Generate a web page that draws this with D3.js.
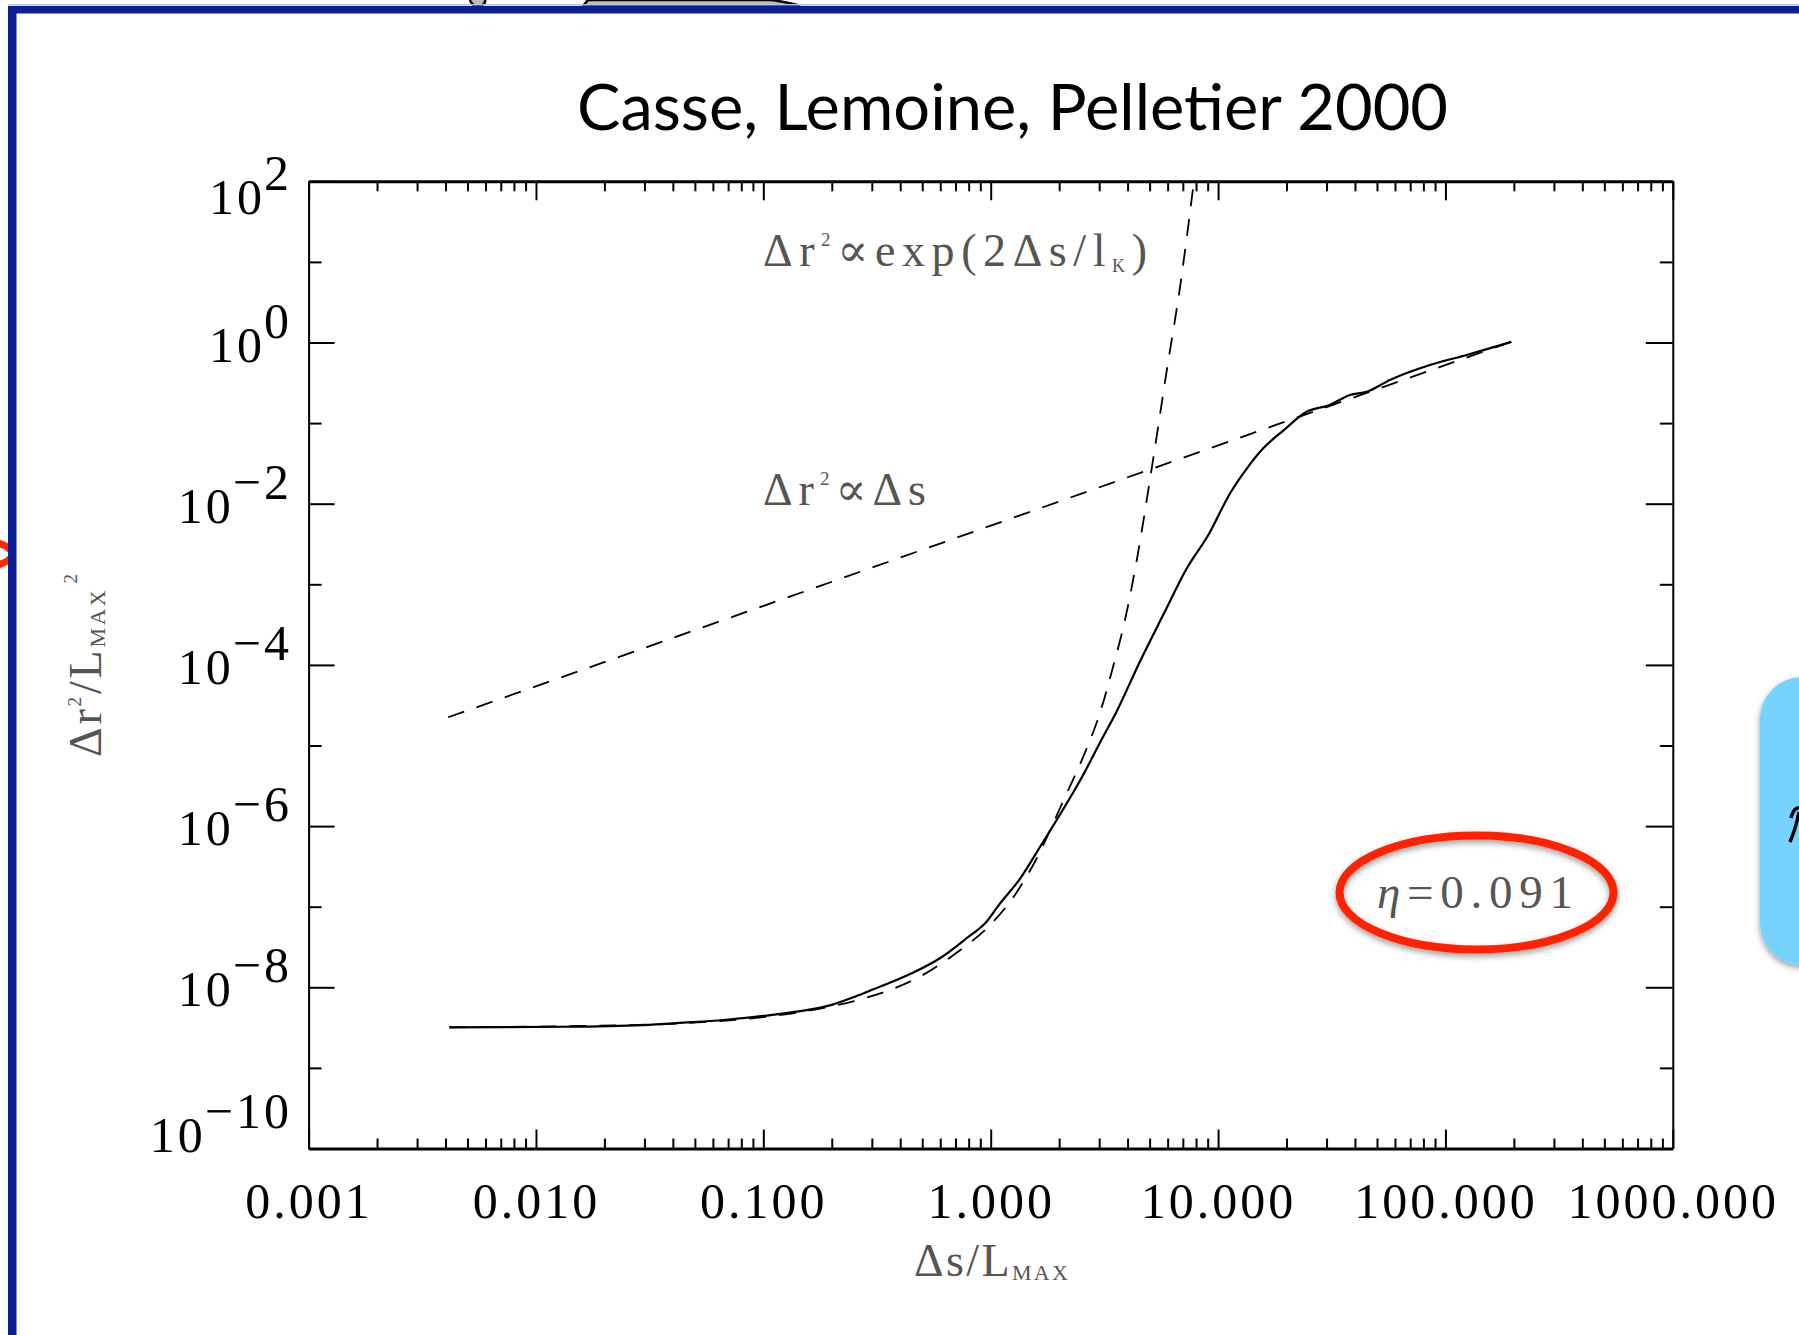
<!DOCTYPE html>
<html>
<head>
<meta charset="utf-8">
<script src="https://cdn.jsdelivr.net/npm/d3@7"></script>
<style>
  body { margin: 0; background: #fff; }
  svg { display: block; }
</style>
</head>
<body>
<svg id="chart" width="1799" height="1335"></svg>
<script>
// axis ticks
var xTicks = [0.001, 0.01, 0.1, 1, 10, 100, 1000];
var xTickLabels = ["0.001", "0.010", "0.100", "1.000", "10.000", "100.000", "1000.000"];
var yExponents = [2, 0, -2, -4, -6, -8, -10];
var yMinorExponents = [1, -1, -3, -5, -7, -9];

// simulated run (solid)
var runS = [0.00416, 0.0132, 0.0296, 0.0445, 0.0667, 0.100, 0.140, 0.196, 0.251, 0.305,
            0.442, 0.598, 0.783, 0.959, 1.10, 1.35, 1.65, 1.95, 2.55, 3.03,
            3.58, 4.54, 5.74, 7.28, 9.06, 11.3, 13.4, 15.8, 19.4, 24.5,
            31.0, 38.0, 45.1, 57.0, 85.5, 124, 195];
var runR2 = [3.19e-9, 3.24e-9, 3.40e-9, 3.64e-9, 3.93e-9, 4.41e-9, 4.98e-9, 5.96e-9, 7.59e-9, 9.44e-9,
             1.46e-8, 2.29e-8, 4.06e-8, 6.52e-8, 1.10e-7, 2.25e-7, 5.55e-7, 1.19e-6, 4.31e-6, 1.10e-5,
             2.65e-5, 1.11e-4, 4.18e-4, 1.57e-3, 4.09e-3, 0.0135, 0.0275, 0.0486, 0.0813, 0.138,
             0.168, 0.223, 0.245, 0.343, 0.526, 0.700, 1.02];

// exponential regime (dashed)
var expS = [0.00416, 0.0251, 0.0631, 0.100, 0.158, 0.251, 0.355, 0.501, 0.708, 1.00,
            1.26, 1.58, 2.09, 2.57, 3.02, 3.47, 3.89, 4.39, 5.11, 5.94, 6.81, 7.83];
var expR2 = [3.19e-9, 3.39e-9, 3.80e-9, 4.27e-9, 5.13e-9, 6.76e-9, 9.12e-9, 1.41e-8, 2.69e-8, 6.03e-8,
             1.32e-7, 3.80e-7, 2.09e-6, 7.59e-6, 2.51e-5, 1.0e-4, 3.55e-4, 2.0e-3, 0.0277, 0.438, 4.97, 100];

// diffusive regime (dashed)
var diffS = [0.00411, 195];
var diffR2 = [2.24e-5, 1.02];

var svg = d3.select("#chart");
var defs = svg.append("defs");
var serif = "'Liberation Serif', 'DejaVu Serif', serif";

defs.append("filter").attr("id", "shadow")
    .attr("x", "-20%").attr("y", "-20%").attr("width", "140%").attr("height", "140%")
  .append("feDropShadow")
    .attr("dx", 0).attr("dy", 3).attr("stdDeviation", 3)
    .attr("flood-color", "#000").attr("flood-opacity", 0.4);

defs.append("clipPath").attr("id", "plotClip")
  .append("rect").attr("x", 308.6).attr("y", 181.3).attr("width", 1364.2).attr("height", 967.2);

//Slide furniture around the plot
svg.append("ellipse")
    .attr("cx", -32).attr("cy", 554).attr("rx", 44).attr("ry", 15)
    .attr("fill", "none").attr("stroke", "#ff2a00").attr("stroke-width", 7);

svg.append("path")
    .attr("d", "M470,0 Q472,7 480,6 Q486,4 485,0 M583,6 L588,0 L772,0 Q792,3 800,6 Z")
    .attr("fill", "#bbb").attr("stroke", "#000").attr("stroke-width", 2.5);

svg.append("rect").attr("x", 8).attr("y", 4).attr("width", 1791).attr("height", 1.5).attr("fill", "#b9c3e6");
svg.append("rect").attr("x", 8).attr("y", 6).attr("width", 1791).attr("height", 7.5).attr("fill", "#0b1f95");
svg.append("rect").attr("x", 8).attr("y", 6).attr("width", 8.5).attr("height", 1329).attr("fill", "#0b1f95");

svg.append("rect")
    .attr("x", 1760).attr("y", 677).attr("width", 120).attr("height", 288).attr("rx", 42)
    .attr("fill", "#76d3fe").attr("filter", "url(#shadow)");
// fragment of a glyph cut by the slide edge
svg.append("path")
    .attr("d", "M1791,818 Q1794,806 1801,808 M1799,812 Q1796,828 1790,842")
    .attr("fill", "none").attr("stroke", "#000").attr("stroke-width", 3.5);

//Title
svg.append("text")
    .attr("x", 1012.5).attr("y", 130)
    .attr("text-anchor", "middle")
    .attr("font-family", "'Comic Sans MS', Lato, sans-serif").attr("font-size", 64)
    .attr("textLength", 871).attr("lengthAdjust", "spacingAndGlyphs")
    .text("Casse, Lemoine, Pelletier 2000");

//Scales
var x = d3.scaleLog().domain([0.001, 1000]).range([308.6, 1672.8]);
var y = d3.scaleLog().domain([1e-10, 1e2]).range([1148.5, 181.3]);

var xMinor = [];
xTicks.slice(0, -1).forEach(function(d) {
    for (var k = 2; k < 10; k++) xMinor.push(d * k);
});
var yMajor = yExponents.map(function(e) { return Math.pow(10, e); });
var yMinor = yMinorExponents.map(function(e) { return Math.pow(10, e); });

function addAxis(axis, tx, ty, domainWidth) {
    var g = svg.append("g").attr("transform", "translate(" + tx + "," + ty + ")").call(axis);
    if (domainWidth) g.select(".domain").attr("stroke-width", domainWidth);
    else g.select(".domain").remove();
    g.selectAll(".tick line").attr("stroke-width", 2);
    return g;
}

// bottom
var xAxis = addAxis(d3.axisBottom(x).tickValues(xTicks)
        .tickFormat(function(d, i) { return xTickLabels[i]; })
        .tickSize(-19).tickSizeOuter(0).tickPadding(34), 0, 1148.5, 3);
xAxis.attr("font-family", serif).attr("font-size", 50);
xAxis.selectAll(".tick text").attr("fill", "#000").attr("letter-spacing", 3);
addAxis(d3.axisBottom(x).tickValues(xMinor).tickFormat("").tickSize(-10), 0, 1148.5);
// top
addAxis(d3.axisTop(x).tickValues(xTicks).tickFormat("").tickSize(-19).tickSizeOuter(0), 0, 181.3, 3);
addAxis(d3.axisTop(x).tickValues(xMinor).tickFormat("").tickSize(-10), 0, 181.3);
// left
addAxis(d3.axisLeft(y).tickValues(yMajor).tickFormat("").tickSize(-26).tickSizeOuter(0), 308.6, 0, 2);
addAxis(d3.axisLeft(y).tickValues(yMinor).tickFormat("").tickSize(-13), 308.6, 0);
// right
addAxis(d3.axisRight(y).tickValues(yMajor).tickFormat("").tickSize(-27).tickSizeOuter(0), 1672.8, 0, 2);
addAxis(d3.axisRight(y).tickValues(yMinor).tickFormat("").tickSize(-13), 1672.8, 0);

//Y tick labels: 10 with exponent
var yLabels = svg.append("g").attr("font-family", serif).attr("font-size", 50).attr("letter-spacing", 3);
yExponents.forEach(function(e, i) {
    var shift = i === 0 ? 14 : (i === yExponents.length - 1 ? -16 : 0);
    var t = yLabels.append("text")
        .attr("x", 292).attr("y", y(Math.pow(10, e)) + 19 + shift)
        .attr("text-anchor", "end");
    t.append("tspan").text("10");
    t.append("tspan").attr("dx", -1).attr("dy", -24).text(String(e).replace("-", "\u2212"));
});

//Curves
var line = d3.line()
    .x(function(d) { return x(d[0]); })
    .y(function(d) { return y(d[1]); });

var curves = svg.append("g").attr("clip-path", "url(#plotClip)").attr("fill", "none");
curves.append("path")
    .attr("d", line(d3.zip(diffS, diffR2)))
    .attr("stroke", "#000").attr("stroke-width", 1.8).attr("stroke-dasharray", "17,13");
curves.append("path")
    .attr("d", line.curve(d3.curveMonotoneX)(d3.zip(expS, expR2)))
    .attr("stroke", "#000").attr("stroke-width", 1.8).attr("stroke-dasharray", "17,13");
curves.append("path")
    .attr("d", line.curve(d3.curveMonotoneX)(d3.zip(runS, runR2)))
    .attr("stroke", "#000").attr("stroke-width", 2.2);

//Annotations
var gray = "#555";
var a1 = svg.append("text").attr("x", 763).attr("y", 266)
    .attr("font-family", serif).attr("font-size", 46).attr("fill", gray)
    .attr("textLength", 384).attr("lengthAdjust", "spacing");
a1.append("tspan").text("\u0394r");
a1.append("tspan").attr("font-size", 19).attr("dy", -20).text("2");
a1.append("tspan").attr("dy", 20).text("\u221Dexp(2\u0394s/l");
a1.append("tspan").attr("font-size", 18).attr("dy", 6).text("K");
a1.append("tspan").attr("dy", -6).text(")");

var a2 = svg.append("text").attr("x", 763).attr("y", 505)
    .attr("font-family", serif).attr("font-size", 46).attr("fill", gray)
    .attr("textLength", 163).attr("lengthAdjust", "spacing");
a2.append("tspan").text("\u0394r");
a2.append("tspan").attr("font-size", 19).attr("dy", -20).text("2");
a2.append("tspan").attr("dy", 20).text("\u221D\u0394s");

//eta label, circled
var eta = svg.append("text").attr("x", 1377).attr("y", 908)
    .attr("font-family", serif).attr("font-size", 47).attr("fill", gray)
    .attr("textLength", 196).attr("lengthAdjust", "spacing");
eta.append("tspan").attr("font-style", "italic").text("\u03B7");
eta.append("tspan").text("=0.091");
svg.append("ellipse")
    .attr("cx", 1476.5).attr("cy", 892.5).attr("rx", 137).attr("ry", 57)
    .attr("fill", "none").attr("stroke", "#ff2200").attr("stroke-width", 8)
    .attr("filter", "url(#shadow)");

//Axis titles
var xt = svg.append("text").attr("x", 914).attr("y", 1276)
    .attr("font-family", serif).attr("font-size", 46).attr("fill", gray)
    .attr("textLength", 154).attr("lengthAdjust", "spacing");
xt.append("tspan").text("\u0394s/L");
xt.append("tspan").attr("font-size", 22).attr("dy", 4).text("MAX");

var yt = svg.append("text").attr("transform", "translate(101,757) rotate(-90)")
    .attr("font-family", serif).attr("font-size", 46).attr("fill", gray)
    .attr("textLength", 183).attr("lengthAdjust", "spacing");
yt.append("tspan").text("\u0394r");
yt.append("tspan").attr("font-size", 19).attr("dy", -20).text("2");
yt.append("tspan").attr("dy", 20).text("/L");
yt.append("tspan").attr("font-size", 22).attr("dy", 4).text("MAX");
yt.append("tspan").attr("font-size", 19).attr("dy", -28).attr("dx", 4).text("2");
</script>
</body>
</html>
